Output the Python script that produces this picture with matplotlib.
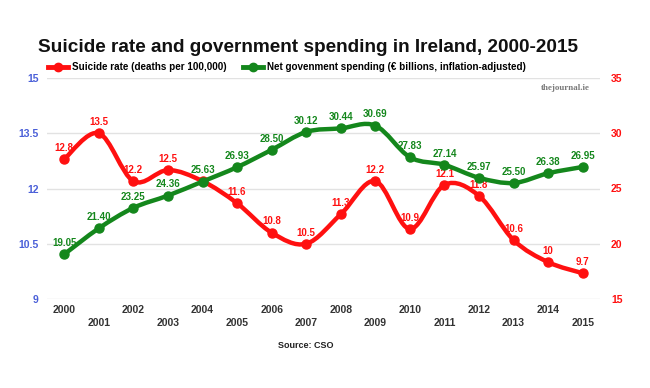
import matplotlib
matplotlib.use("Agg")
import matplotlib.pyplot as plt
from matplotlib.path import Path
from matplotlib.patches import PathPatch
from matplotlib.lines import Line2D

plt.rcParams["font.family"] = ["Liberation Sans", "DejaVu Sans"]

years = list(range(2000, 2016))
suicide_rate = [12.8, 13.5, 12.2, 12.5, 12.2, 11.6, 10.8, 10.5, 11.3, 12.2, 10.9, 12.1, 11.8, 10.6, 10.0, 9.7]
spending = [19.05, 21.40, 23.25, 24.36, 25.63, 26.93, 28.50, 30.12, 30.44, 30.69, 27.83, 27.14, 25.97, 25.50, 26.38, 26.95]
left_ticks = [9, 10.5, 12, 13.5, 15]
right_ticks = [15, 20, 25, 30, 35]

RED = "#ff1010"
GREEN = "#14871c"
BLUE = "#4a5fd8"


def smooth_path(xs, ys):
    # catmull-rom through the points, drawn as bezier segments
    verts = [(xs[0], ys[0])]
    codes = [Path.MOVETO]
    n = len(xs)
    for i in range(n - 1):
        x0, y0 = xs[max(i - 1, 0)], ys[max(i - 1, 0)]
        x1, y1 = xs[i], ys[i]
        x2, y2 = xs[i + 1], ys[i + 1]
        x3, y3 = xs[min(i + 2, n - 1)], ys[min(i + 2, n - 1)]
        verts += [(x1 + (x2 - x0) / 6, y1 + (y2 - y0) / 6),
                  (x2 - (x3 - x1) / 6, y2 - (y3 - y1) / 6),
                  (x2, y2)]
        codes += [Path.CURVE4] * 3
    return Path(verts, codes)


fig = plt.figure(figsize=(6.5, 3.88), dpi=100)
ax = fig.add_axes([47 / 650, 1 - 299 / 388, 553 / 650, 221 / 388])
ax2 = ax.twinx()

ax.set_xlim(1999.5, 2015.5)
ax.set_ylim(9, 15)
ax2.set_ylim(15, 35)
ax.set_yticks(left_ticks)
ax.set_yticklabels([f"{t:g}" for t in left_ticks])
ax2.set_yticks(right_ticks)
ax.grid(axis="y", color="#e2e2e2", linewidth=1)
ax.set_axisbelow(True)
for a in (ax, ax2):
    for s in a.spines.values():
        s.set_visible(False)
    a.tick_params(length=0)

ax.tick_params(axis="y", labelcolor=BLUE, labelsize=7.5, pad=6)
ax2.tick_params(axis="y", labelcolor=RED, labelsize=7.5, pad=8)
for lab in ax.get_yticklabels() + ax2.get_yticklabels():
    lab.set_fontweight("bold")

ax.set_xticks(years)
ax.set_xticklabels([str(y) if y % 2 == 0 else "\n" + str(y) for y in years],
                   fontsize=7.5, fontweight="bold", color="#333333", linespacing=1.45)
ax.tick_params(axis="x", pad=4)

# suicide rate on left axis
ax.add_patch(PathPatch(smooth_path(years, suicide_rate), fill=False, edgecolor=RED,
                       linewidth=3.2, capstyle="round", joinstyle="round"))
ax.plot(years, suicide_rate, "o", color=RED, markersize=6.5)
for x, v in zip(years, suicide_rate):
    if x == 2004:
        continue  # hidden under the green 25.63 label in the original
    ax.annotate(f"{v:g}", (x, v), xytext=(0, 4.5), textcoords="offset points", ha="center",
                va="bottom", fontsize=7, fontweight="bold", color=RED)

# spending on right axis
ax2.add_patch(PathPatch(smooth_path(years, spending), fill=False, edgecolor=GREEN,
                        linewidth=3.2, capstyle="round", joinstyle="round"))
ax2.plot(years, spending, "o", color=GREEN, markersize=6.5)
for x, v in zip(years, spending):
    ax2.annotate(f"{v:.2f}", (x, v), xytext=(0, 4.5), textcoords="offset points", ha="center",
                 va="bottom", fontsize=7, fontweight="bold", color=GREEN)

fig.text(38 / 650, 1 - 47 / 388, "Suicide rate and government spending in Ireland, 2000-2015",
         fontsize=13.7, fontweight="bold", color="#111111", va="center")

handles = [Line2D([], [], color=RED, linewidth=3.5, marker="o", markersize=6),
           Line2D([], [], color=GREEN, linewidth=3.5, marker="o", markersize=6)]
fig.legend(handles, ["Suicide rate (deaths per 100,000)",
                     "Net govenment spending (\u20ac billions, inflation-adjusted)"],
           loc="center left", bbox_to_anchor=(48 / 650, 1 - 67 / 388), ncol=2, frameon=False,
           prop={"size": 7.1, "weight": "bold"}, handlelength=2.0, handletextpad=0.4,
           columnspacing=1.7, borderpad=0, borderaxespad=0)

fig.text(590 / 650, 1 - 88 / 388, "thejournal.ie", family="Liberation Serif", fontsize=6.5,
         fontweight="bold", color="#7a7a7a", ha="right", va="center")
fig.text(306 / 650, 1 - 345 / 388, "Source: CSO", fontsize=6.5, fontweight="bold",
         color="#222222", ha="center", va="center")

fig.savefig("out.png", dpi=100)
